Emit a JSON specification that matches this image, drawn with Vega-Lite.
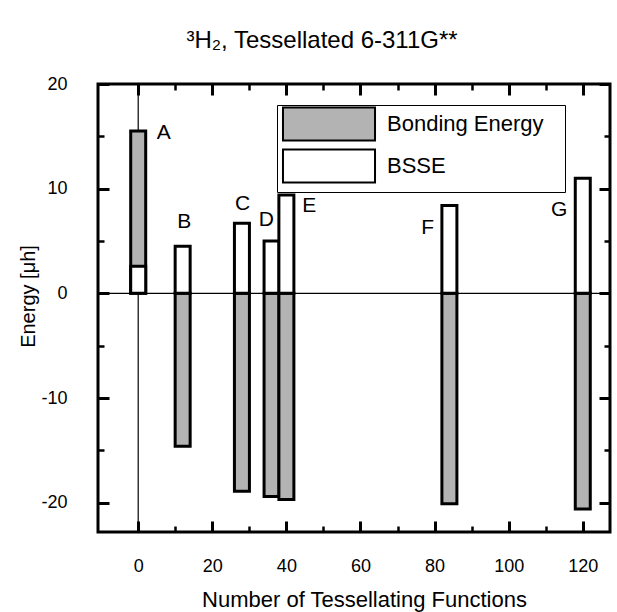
{
  "$schema": "https://vega.github.io/schema/vega-lite/v6.json",
  "width": 512,
  "height": 448,
  "autosize": {"type": "none"},
  "padding": {"left": 98, "top": 84, "right": 7, "bottom": 80},
  "background": "white",
  "config": {
    "font": "Liberation Sans",
    "view": {"stroke": "black", "strokeWidth": 3},
    "axis": {"domain": false, "ticks": false, "gridColor": "black", "gridOpacity": 1, "labelColor": "black", "titleColor": "black", "labelFont": "Liberation Sans", "titleFont": "Liberation Sans", "titleFontWeight": "normal"},
    "legend": {"strokeColor": "black", "padding": 5, "symbolStrokeColor": "black", "symbolStrokeWidth": 2}
  },
  "title": {"text": "³H₂, Tessellated 6-311G**", "fontSize": 24, "fontWeight": "normal", "font": "Liberation Sans", "anchor": "middle", "dx": -32, "offset": 22, "color": "black"},
  "datasets": {
    "bars": [
      {"n": 0, "energy": 15.5, "series": "Bonding Energy"},
      {"n": 12, "energy": -14.6, "series": "Bonding Energy"},
      {"n": 28, "energy": -18.9, "series": "Bonding Energy"},
      {"n": 36, "energy": -19.4, "series": "Bonding Energy"},
      {"n": 40, "energy": -19.7, "series": "Bonding Energy"},
      {"n": 84, "energy": -20.1, "series": "Bonding Energy"},
      {"n": 120, "energy": -20.6, "series": "Bonding Energy"},
      {"n": 0, "energy": 2.6, "series": "BSSE"},
      {"n": 12, "energy": 4.5, "series": "BSSE"},
      {"n": 28, "energy": 6.7, "series": "BSSE"},
      {"n": 36, "energy": 5.0, "series": "BSSE"},
      {"n": 40, "energy": 9.4, "series": "BSSE"},
      {"n": 84, "energy": 8.4, "series": "BSSE"},
      {"n": 120, "energy": 11.0, "series": "BSSE"}
    ],
    "labels": [
      {"lx": 6.9, "ly": 15.3, "label": "A"},
      {"lx": 12.4, "ly": 6.8, "label": "B"},
      {"lx": 28.2, "ly": 8.5, "label": "C"},
      {"lx": 34.6, "ly": 7.05, "label": "D"},
      {"lx": 46.2, "ly": 8.3, "label": "E"},
      {"lx": 78.1, "ly": 6.2, "label": "F"},
      {"lx": 113.6, "ly": 8.0, "label": "G"}
    ]
  },
  "layer": [
    {
      "data": {"values": [{}]},
      "mark": {"type": "rule", "color": "black", "strokeWidth": 1.2},
      "encoding": {
        "x": {"datum": -9.5, "type": "quantitative",
          "scale": {"domain": [-9.5, 126], "nice": false, "zero": false},
          "axis": {"orient": "bottom", "values": [10, 30, 50, 70, 90, 110], "grid": true, "gridWidth": 2.5, "gridDash": [6, 436, 6], "labels": false, "title": null}},
        "x2": {"datum": 126},
        "y": {"datum": 0, "type": "quantitative",
          "scale": {"domain": [-22.8, 20], "nice": false, "zero": false},
          "axis": {"orient": "left", "values": [-15, -5, 5, 15], "grid": true, "gridWidth": 2.5, "gridDash": [6, 500, 6], "labels": false, "title": null}}
      }
    },
    {
      "data": {"values": [{}]},
      "mark": {"type": "rule", "color": "black", "strokeWidth": 1.2},
      "encoding": {
        "x": {"datum": 0, "type": "quantitative", "axis": null},
        "y": {"datum": -22.8, "type": "quantitative", "axis": null},
        "y2": {"datum": 20}
      }
    },
    {
      "data": {"name": "bars"},
      "mark": {"type": "bar", "width": 15, "stroke": "black", "strokeWidth": 3},
      "encoding": {
        "x": {"field": "n", "type": "quantitative",
          "scale": {"domain": [-9.5, 126], "nice": false, "zero": false},
          "axis": {"orient": "bottom", "values": [0, 20, 40, 60, 80, 100, 120], "grid": true, "gridWidth": 3, "gridDash": [11, 426, 11],
            "labelExpr": "'' + datum.value", "labelFontSize": 18, "labelPadding": 25,
            "title": "Number of Tessellating Functions", "titleFontSize": 22, "titleX": 266, "titlePadding": 14}
        },
        "y": {"field": "energy", "type": "quantitative",
          "scale": {"domain": [-22.8, 20], "nice": false, "zero": false},
          "axis": {"orient": "left", "values": [-20, -10, 0, 10, 20], "grid": true, "gridWidth": 3, "gridDash": [11, 490, 11],
            "labelExpr": "'' + datum.value", "labelFontSize": 18, "labelPadding": 31,
            "title": "Energy [μh]", "titleFontSize": 20, "titleY": 212, "titlePadding": 2}
        },
        "y2": {"datum": 0},
        "color": {"field": "series", "type": "nominal",
          "scale": {"domain": ["Bonding Energy", "BSSE"], "range": ["#b3b3b3", "#ffffff"]},
          "legend": {"orient": "none", "legendX": 179, "legendY": 21, "title": null,
            "symbolType": "M-3.54,-1.27H3.54V1.27H-3.54Z", "symbolSize": 676, "symbolOpacity": 1, "symbolOffset": 33,
            "labelExpr": "datum.label == 'Bonding Energy' ? datum.label + '\u2800' : datum.label",
            "labelLimit": 400, "labelFontSize": 22, "labelColor": "black", "rowPadding": 0, "labelOffset": 44}
        }
      }
    },
    {
      "data": {"name": "labels"},
      "mark": {"type": "text", "fontSize": 21, "color": "black", "font": "Liberation Sans"},
      "encoding": {
        "x": {"field": "lx", "type": "quantitative", "axis": null},
        "y": {"field": "ly", "type": "quantitative", "axis": null},
        "text": {"field": "label"}
      }
    }
  ],
  "resolve": {"axis": {"x": "independent", "y": "independent"}}
}
